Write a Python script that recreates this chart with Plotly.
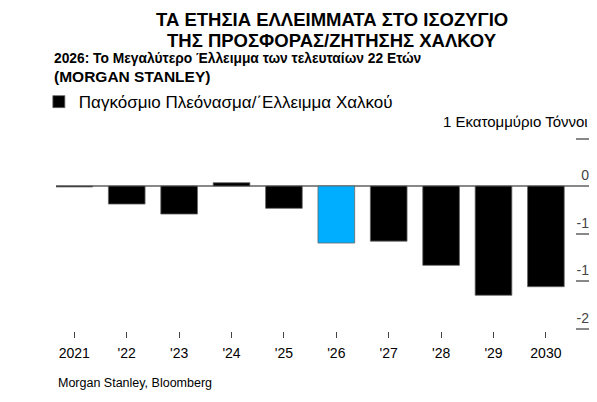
import plotly.graph_objects as go

years = ["2021", "'22", "'23", "'24", "'25", "'26", "'27", "'28", "'29", "2030"]
balance = [-0.01, -0.19, -0.295, 0.035, -0.235, -0.60, -0.58, -0.835, -1.15, -1.06]
highlight_year = "'26"
y_tick_vals = [0.5, 0, -0.5, -1.0, -1.5]
y_tick_text = ["", "0", "-1", "-1", "-2"]

FONT = "Liberation Sans, Arial, sans-serif"
colors = ["#00AEFF" if y == highlight_year else "#000000" for y in years]

# page has an 8px body margin; figure is sized/placed to compensate
W, H = 589, 386
fig = go.Figure()
fig.add_trace(go.Bar(
    x=list(range(len(years))), y=balance,
    marker=dict(color=colors, line=dict(color="#666666", width=0.8)),
    name="Παγκόσμιο Πλεόνασμα/΄Ελλειμμα Χαλκού",
    showlegend=True,
))

fig.update_layout(
    width=W, height=H,
    margin=dict(l=48, r=5, t=129, b=63, autoexpand=False),
    paper_bgcolor="white", plot_bgcolor="white",
    font=dict(family=FONT, color="#000000"),
    bargap=0.3,
    legend=dict(
        x=-0.032, y=1.18, xanchor="left", yanchor="middle",
        font=dict(size=17, family=FONT),
        bgcolor="rgba(0,0,0,0)",
    ),
    xaxis=dict(
        range=[-0.35, 9.88],
        tickmode="array", tickvals=list(range(len(years))), ticktext=years,
        ticks="outside", ticklen=6, tickcolor="#444444", tickwidth=1,
        ticklabelstandoff=3,
        tickfont=dict(size=14, family=FONT),
        showgrid=False, showline=False, zeroline=False,
    ),
    yaxis=dict(
        range=[-1.526, 0.516], side="right",
        tickmode="array", tickvals=y_tick_vals, ticktext=y_tick_text,
        ticks="inside", ticklen=16, tickcolor="#888888", tickwidth=1.5,
        ticklabelposition="inside top",
        tickfont=dict(size=14, family=FONT),
        showgrid=False, showline=False,
        zeroline=True, zerolinecolor="#888888", zerolinewidth=1.5,
    ),
    annotations=[
        dict(text="<b>ΤΑ ΕΤΗΣΙΑ ΕΛΛΕΙΜΜΑΤΑ ΣΤΟ ΙΣΟΖΥΓΙΟ</b>",
             xref="paper", yref="paper", x=0.515, y=1.608, xanchor="center", yanchor="middle",
             showarrow=False, font=dict(size=18.5, family=FONT)),
        dict(text="<b>ΤΗΣ ΠΡΟΣΦΟΡΑΣ/ΖΗΤΗΣΗΣ ΧΑΛΚΟΥ</b>",
             xref="paper", yref="paper", x=0.515, y=1.497, xanchor="center", yanchor="middle",
             showarrow=False, font=dict(size=18.5, family=FONT)),
        dict(text="<b>2026: Το Μεγαλύτερο Έλλειμμα των τελευταίων 22 Ετών</b>",
             xref="paper", yref="paper", x=-0.0075, y=1.405, xanchor="left", yanchor="middle",
             showarrow=False, font=dict(size=13.8, family=FONT)),
        dict(text="<b>(MORGAN STANLEY)</b>",
             xref="paper", yref="paper", x=-0.0075, y=1.312, xanchor="left", yanchor="middle",
             showarrow=False, font=dict(size=15.5, family=FONT)),
        dict(text="1 Εκατομμύριο Τόννοι", xref="paper", yref="paper", x=0.996, y=1.082,
             xanchor="right", yanchor="middle", showarrow=False, font=dict(size=15, family=FONT)),
        dict(text="Morgan Stanley, Bloomberg", xref="paper", yref="paper", x=0.0, y=-0.268,
             xanchor="left", yanchor="middle", showarrow=False, font=dict(size=12.5, family=FONT)),
    ],
)

fig.write_html("out.html")
